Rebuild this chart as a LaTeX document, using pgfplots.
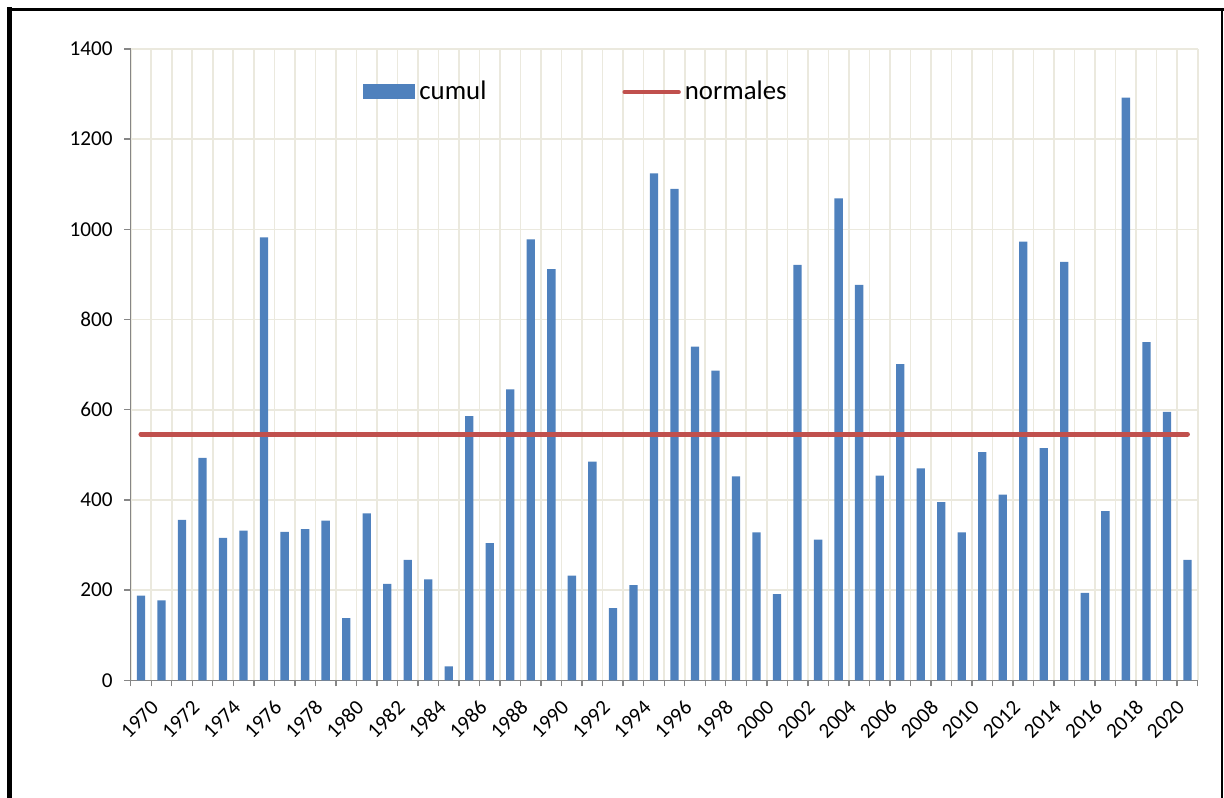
\documentclass[border=0pt]{standalone}
\usepackage{pgfplots}
\pgfplotsset{compat=1.18}
\usepackage{fontspec}
\setmainfont{Carlito}
\definecolor{barblue}{HTML}{4F81BD}
\definecolor{normred}{HTML}{C0504D}
\definecolor{gridc}{HTML}{EBE9DE}
\definecolor{axc}{HTML}{868686}
\begin{document}
\begin{tikzpicture}
\path[use as bounding box] (0,0) rectangle (612pt,398.5pt);
\draw[line width=2.5pt] (4.6pt,-3pt) -- (4.6pt,395pt);
\draw[line width=1.5pt] (3.4pt,393.8pt) -- (612pt,393.8pt);
\draw[line width=1.2pt] (611pt,394.5pt) -- (611pt,-3pt);
\begin{axis}[
  at={(65.35pt,58.35pt)}, anchor=south west,
  scale only axis, width=533.5pt, height=315.65pt,
  xmin=-0.5, xmax=51.5, ymin=0, ymax=1400,
  ytick={0,200,...,1400},
  xtick={0,2,...,50},
  xticklabels={1970,1972,1974,1976,1978,1980,1982,1984,1986,1988,1990,1992,1994,1996,1998,2000,2002,2004,2006,2008,2010,2012,2014,2016,2018,2020},
  minor xtick={-0.5,0.5,...,51.5},
  xminorgrids=true, xmajorgrids=false, ymajorgrids=true,
  major grid style={gridc, line width=0.8pt},
  minor grid style={gridc, line width=0.8pt},
  axis x line*=bottom, axis y line*=left,
  axis line style={axc, line width=0.7pt, -},
  tick align=outside,
  major tick length=3.3pt, minor tick length=3pt,
  major x tick style={draw=none},
  minor x tick style={axc, line width=0.7pt},
  major y tick style={axc, line width=0.7pt},
  xticklabel style={rotate=45, anchor=east, inner sep=0pt, font=\fontsize{10.6}{12}\selectfont, yshift=-11pt, xshift=-1pt},
  yticklabel style={anchor=east, inner sep=0pt, xshift=-5.5pt, font=\fontsize{10.6}{12}\selectfont},
  /pgf/number format/1000 sep={},
  /pgf/number format/assume math mode=true,
  legend columns=2,
  legend style={at={(0.2177,0.9319)}, anchor=west, draw=none, fill=none, inner sep=0pt,
    font=\fontsize{13.4}{15}\selectfont,
    /tikz/every even column/.append style={column sep=66pt}},
]
\addplot[ybar, bar width=0.405, fill=barblue, draw=none,
  legend image code/.code={\fill[barblue] (0pt,-3.75pt) rectangle (26pt,3.75pt);}]
coordinates {
(0,188) (1,177) (2,356) (3,493) (4,316) (5,332) (6,982) (7,329) (8,335) (9,354)
(10,138) (11,370) (12,214) (13,267) (14,224) (15,31) (16,586) (17,304) (18,645) (19,978)
(20,912) (21,232) (22,485) (23,160) (24,211) (25,1124) (26,1090) (27,740) (28,687) (29,452)
(30,328) (31,191) (32,921) (33,312) (34,1069) (35,877) (36,454) (37,701) (38,470) (39,395)
(40,328) (41,506) (42,412) (43,973) (44,515) (45,928) (46,194) (47,375) (48,1292) (49,750)
(50,595) (51,267)};
\addlegendentry{cumul}
\addplot[normred, line width=2.5pt, line cap=round, mark=none,
  legend image code/.code={\draw[normred, line width=2.2pt, line cap=round] (0pt,0pt) -- (27pt,0pt);}]
coordinates {(0,546) (51,546)};
\addlegendentry{normales}
\end{axis}
\end{tikzpicture}
\end{document}
